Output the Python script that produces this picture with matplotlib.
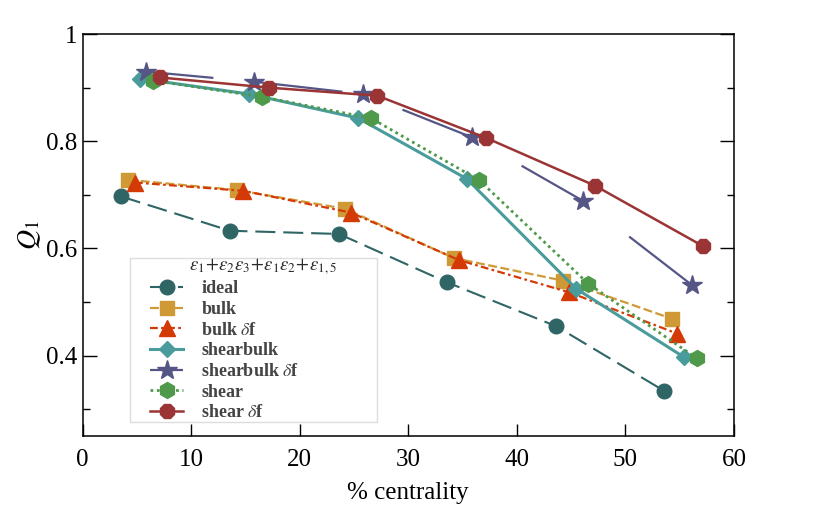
import numpy as np
import matplotlib.pyplot as plt
from matplotlib.patches import Rectangle
from matplotlib.ticker import MultipleLocator, FormatStrFormatter

plt.rcParams['font.family'] = ['Liberation Serif', 'DejaVu Serif']
plt.rcParams['mathtext.fontset'] = 'stix'

# values (x = % centrality, y = Q1)
ideal_x = [3.55, 13.58, 23.62, 33.54, 43.6, 53.58]
ideal_y = [0.697, 0.633, 0.627, 0.537, 0.455, 0.334]
bulk_x = [4.22, 14.2, 24.18, 34.2, 44.22, 54.26]
bulk_y = [0.728, 0.709, 0.674, 0.582, 0.540, 0.469]
bulk_df_x = [4.83, 14.81, 24.7, 34.7, 44.84, 54.78]
bulk_df_y = [0.723, 0.7075, 0.667, 0.578, 0.518, 0.441]
shearbulk_x = [5.30, 15.36, 25.4, 35.38, 45.45, 55.4]
shearbulk_y = [0.917, 0.888, 0.843, 0.730, 0.525, 0.397]
shearbulk_df_x = [5.82, 15.83, 25.86, 35.84, 46.07, 56.1]
shearbulk_df_y = [0.930, 0.911, 0.888, 0.8075, 0.689, 0.532]
shear_x = [6.52, 16.5, 26.57, 36.55, 46.58, 56.57]
shear_y = [0.913, 0.883, 0.843, 0.727, 0.534, 0.395]
shear_df_x = [7.14, 17.18, 27.15, 37.2, 47.2, 57.17]
shear_df_y = [0.919, 0.900, 0.885, 0.806, 0.717, 0.604]

fig = plt.figure(figsize=(8.3, 5.16), dpi=100)
ax = fig.add_axes([0.0994, 0.155, 0.785, 0.779])

ax.plot(ideal_x, ideal_y, color='#2f6565', lw=1.5, ls=(0, (9.6, 3.8)),
        marker='o', ms=10.5, label='ideal')
ax.plot(bulk_x, bulk_y, color='#cf9a36', lw=1.6, ls=(0, (4, 1.6)),
        marker='s', ms=10.5, label='bulk')
ax.plot(bulk_df_x, bulk_df_y, color='#d43a06', lw=1.6, ls=(0, (3.5, 1.5, 1.2, 1.5)),
        marker='^', ms=11, label=r'bulk $\delta$f')
ax.plot(shearbulk_x, shearbulk_y, color='#4a9c9c', lw=2.2, ls='-',
        marker='D', ms=8, label='shearbulk')
ax.plot(shearbulk_df_x, shearbulk_df_y, color='#555686', lw=1.6,
        ls=(0, (30.6, 18.4, 40, 28.4, 33.3, 26.1, 31.5, 26.6, 40.5, 27)),
        marker='*', ms=15, label=r'shearbulk $\delta$f')
ax.plot(shear_x, shear_y, color='#4f9a4a', lw=2.0, ls=(0, (1, 1.3)),
        marker='h', ms=11.5, label='shear')
ax.plot(shear_df_x, shear_df_y, color='#9b3434', lw=1.8, ls='-',
        marker='8', ms=11, label=r'shear $\delta$f')

ax.set_xlim(0, 60)
ax.set_ylim(0.25, 1.0)
ax.xaxis.set_major_locator(MultipleLocator(10))
ax.yaxis.set_major_locator(MultipleLocator(0.2))
ax.yaxis.set_minor_locator(MultipleLocator(0.1))
ax.yaxis.set_major_formatter(FormatStrFormatter('%g'))
ax.tick_params(axis='x', which='major', direction='in', length=9, width=1,
               labelsize=18, pad=9, top=False)
ax.tick_params(axis='y', which='major', direction='in', length=10, width=1,
               labelsize=18, pad=4, right=True)
ax.tick_params(axis='y', which='minor', direction='in', length=5, width=1, right=True)
for s in ax.spines.values():
    s.set_linewidth(1.1)

ax.set_xlabel('% centrality', fontsize=18, labelpad=8)
ax.set_ylabel(r'$Q_1$', fontsize=20, labelpad=2)

# legend frame drawn on its own, legend content placed inside it
ax.add_patch(Rectangle((0.073, 0.035), 0.379, 0.408, transform=ax.transAxes,
                       facecolor='white', edgecolor='#dddddd', lw=1.0, zorder=4))
leg = ax.legend(loc='lower left', bbox_to_anchor=(0.1036, 0.037, 0.348, 0.3),
                mode='expand',
                title=r'$\varepsilon_1\!+\!\varepsilon_2\varepsilon_3\!+\!\varepsilon_1\varepsilon_2\!+\!\varepsilon_{1,5}$',
                prop={'size': 13, 'weight': 'bold'}, title_fontsize=13.5,
                frameon=False, handlelength=1.85, handletextpad=1.0,
                labelspacing=0.2, borderpad=0, borderaxespad=0)
leg.set_zorder(5)
for t in leg.get_texts():
    t.set_color('#444444')
leg.get_title().set_color('#2a2a2a')

fig.savefig('out.png', dpi=100)
